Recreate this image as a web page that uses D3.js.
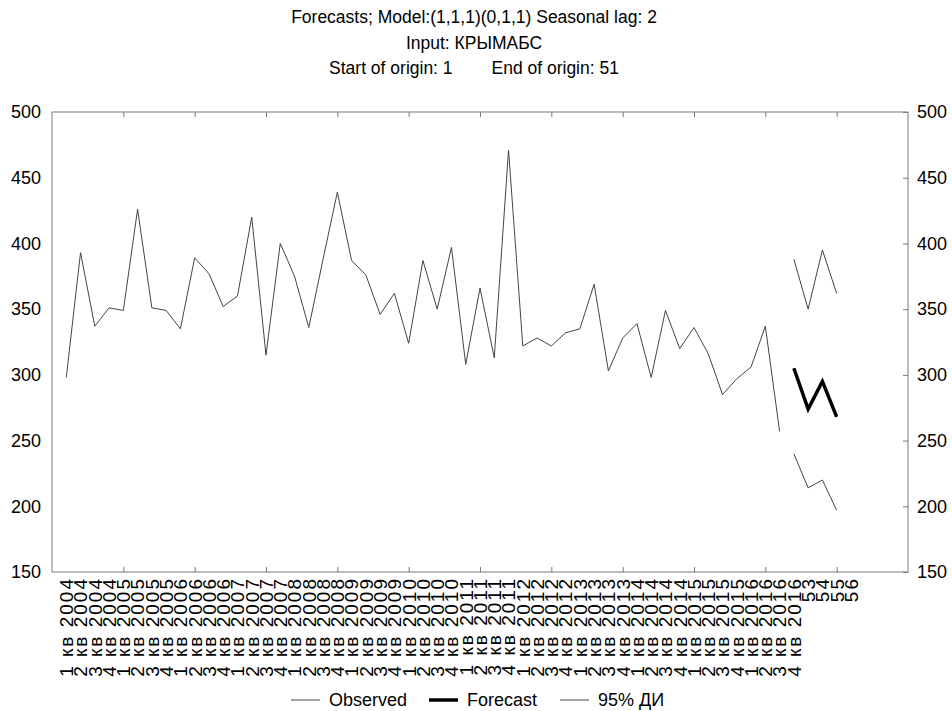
<!DOCTYPE html>
<html>
<head>
<meta charset="utf-8">
<script src="https://cdn.jsdelivr.net/npm/d3@7"></script>
<style>
  body { margin: 0; background: #fff; }
  text { font-family: "Liberation Sans", Arial, sans-serif; fill: #000; }
</style>
</head>
<body>
<div id="chart"></div>
<script>

// data
const titleLines = [
  "Forecasts; Model:(1,1,1)(0,1,1) Seasonal lag: 2",
  "Input: КРЫМАБС",
  "Start of origin: 1        End of origin: 51"
];

const observed = [298, 393, 337, 351, 349, 426, 351, 349, 335, 389,
                  377, 352, 360, 420, 315, 400, 375, 336, 388, 439,
                  387, 376, 346, 362, 324, 387, 350, 397, 308, 366,
                  313, 471, 322, 328, 322, 332, 335, 369, 303, 328,
                  339, 298, 349, 320, 336, 316, 285, 297, 306, 337,
                  257];

const forecastCases = [52, 53, 54, 55];
const forecast = [305, 274, 295, 268];
const upper95 = [388, 350, 395, 362];
const lower95 = [240, 214, 220, 197];

const caseLabels = [
  "1 кв 2004", "2 кв 2004", "3 кв 2004", "4 кв 2004",
  "1 кв 2005", "2 кв 2005", "3 кв 2005", "4 кв 2005",
  "1 кв 2006", "2 кв 2006", "3 кв 2006", "4 кв 2006",
  "1 кв 2007", "2 кв 2007", "3 кв 2007", "4 кв 2007",
  "1 кв 2008", "2 кв 2008", "3 кв 2008", "4 кв 2008",
  "1 кв 2009", "2 кв 2009", "3 кв 2009", "4 кв 2009",
  "1 кв 2010", "2 кв 2010", "3 кв 2010", "4 кв 2010",
  "1 кв 2011", "2 кв 2011", "3 кв 2011", "4 кв 2011",
  "1 кв 2012", "2 кв 2012", "3 кв 2012", "4 кв 2012",
  "1 кв 2013", "2 кв 2013", "3 кв 2013", "4 кв 2013",
  "1 кв 2014", "2 кв 2014", "3 кв 2014", "4 кв 2014",
  "1 кв 2015", "2 кв 2015", "3 кв 2015", "4 кв 2015",
  "1 кв 2016", "2 кв 2016", "3 кв 2016", "4 кв 2016",
  "53", "54", "55", "56"
];

const yTicks = [150, 200, 250, 300, 350, 400, 450, 500];
const xTicks = [5, 10, 15, 20, 25, 30, 35, 40, 45, 50, 55];

const legendItems = [
  { name: "Observed", width: 1, color: "#444" },
  { name: "Forecast", width: 3.5, color: "#000" },
  { name: "95% ДИ", width: 1, color: "#444" }
];

let dimensions = {
  width: 952,
  height: 711,
  margin: { top: 112, right: 44, bottom: 139, left: 52 }
};
dimensions.boundedWidth = dimensions.width - dimensions.margin.left - dimensions.margin.right;
dimensions.boundedHeight = dimensions.height - dimensions.margin.top - dimensions.margin.bottom;

const wrapper = d3.select("#chart")
  .append("svg")
  .attr("width", dimensions.width)
  .attr("height", dimensions.height);

const bounds = wrapper.append("g")
  .attr("transform", `translate(${dimensions.margin.left},${dimensions.margin.top})`);

const x = d3.scaleLinear().domain([0, 60]).range([0, dimensions.boundedWidth]);
const y = d3.scaleLinear().domain([150, 500]).range([dimensions.boundedHeight, 0]);

// title

wrapper.append("g")
  .selectAll("text")
  .data(titleLines)
  .join("text")
  .attr("x", 474)
  .attr("y", (d, i) => 23 + i * 25.5)
  .attr("text-anchor", "middle")
  .style("font-size", "17.5px")
  .style("white-space", "pre")
  .text(d => d);

// frame

bounds.append("rect")
  .attr("width", dimensions.boundedWidth)
  .attr("height", dimensions.boundedHeight)
  .attr("fill", "none")
  .attr("stroke", "#7a7a7a")
  .attr("stroke-width", 1);

// y axes (labels on both sides, ticks only inside right)

const yAxisLeft = d3.axisLeft(y).tickValues(yTicks).tickSize(0).tickPadding(11);
bounds.append("g")
  .call(yAxisLeft)
  .call(g => g.select(".domain").remove())
  .selectAll("text")
  .style("font-size", "18px")
  .style("font-family", "Liberation Sans, Arial, sans-serif");

const yAxisRight = d3.axisRight(y).tickValues(yTicks).tickSizeInner(-5).tickSizeOuter(0).tickPadding(9);
bounds.append("g")
  .attr("transform", `translate(${dimensions.boundedWidth},0)`)
  .call(yAxisRight)
  .call(g => g.select(".domain").remove())
  .call(g => g.selectAll("line").attr("stroke", "#7a7a7a"))
  .selectAll("text")
  .style("font-size", "18px")
  .style("font-family", "Liberation Sans, Arial, sans-serif");

// x ticks inside top and bottom

bounds.append("g")
  .attr("transform", `translate(0,${dimensions.boundedHeight})`)
  .call(d3.axisBottom(x).tickValues(xTicks).tickSize(-5).tickFormat(""))
  .call(g => g.select(".domain").remove())
  .call(g => g.selectAll("line").attr("stroke", "#7a7a7a"));

bounds.append("g")
  .call(d3.axisTop(x).tickValues(xTicks).tickSize(-5).tickFormat(""))
  .call(g => g.select(".domain").remove())
  .call(g => g.selectAll("line").attr("stroke", "#7a7a7a"));

// case labels, rotated

bounds.append("g")
  .selectAll("text")
  .data(caseLabels)
  .join("text")
  .attr("transform", (d, i) => `translate(${x(i + 1)},${dimensions.boundedHeight + 5}) rotate(-90)`)
  .attr("dy", "0.36em")
  .attr("text-anchor", "end")
  .style("font-size", "19px")
  .style("letter-spacing", "2px")
  .text(d => d);

// lines

const lineGenerator = d3.line()
  .x(d => x(d[0]))
  .y(d => y(d[1]));

bounds.append("path")
  .attr("d", lineGenerator(observed.map((v, i) => [i + 1, v])))
  .attr("fill", "none")
  .attr("stroke", "#444")
  .attr("stroke-width", 1);

bounds.append("path")
  .attr("d", lineGenerator(forecast.map((v, i) => [forecastCases[i], v])))
  .attr("fill", "none")
  .attr("stroke", "#000")
  .attr("stroke-width", 3.5);

bounds.append("path")
  .attr("d", lineGenerator(upper95.map((v, i) => [forecastCases[i], v])))
  .attr("fill", "none")
  .attr("stroke", "#444")
  .attr("stroke-width", 1);

bounds.append("path")
  .attr("d", lineGenerator(lower95.map((v, i) => [forecastCases[i], v])))
  .attr("fill", "none")
  .attr("stroke", "#444")
  .attr("stroke-width", 1);

// legend

const legendX = [291, 429, 560];
const legend = wrapper.append("g")
  .selectAll("g")
  .data(legendItems)
  .join("g")
  .attr("transform", (d, i) => `translate(${legendX[i]},700)`);

legend.append("line")
  .attr("x1", 0)
  .attr("x2", 29)
  .attr("stroke", d => d.color)
  .attr("stroke-width", d => d.width);

legend.append("text")
  .attr("x", 38)
  .attr("dy", "0.35em")
  .style("font-size", "18px")
  .text(d => d.name);

</script>
</body>
</html>
